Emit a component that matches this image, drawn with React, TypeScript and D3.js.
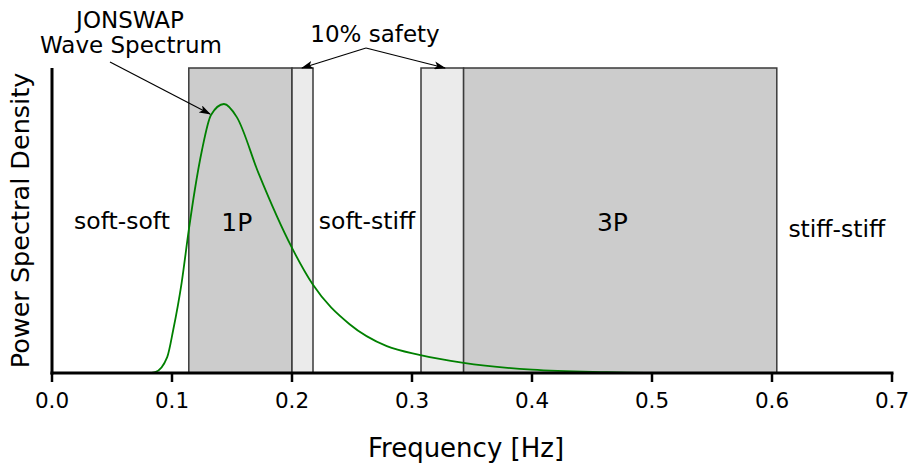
import { useEffect } from 'react'
import * as d3 from 'd3'

// spectrum (frequency in Hz, normalised density)
const FREQ = [0.0, 0.08, 0.086, 0.096, 0.101, 0.108, 0.114, 0.119, 0.125, 0.1325, 0.1433, 0.154, 0.172, 0.2, 0.2175, 0.248, 0.279, 0.307, 0.323, 0.343, 0.4, 0.4625, 0.52, 0.7]
const PSD = [0, 0, 0.003, 0.052, 0.141, 0.295, 0.469, 0.6, 0.731, 0.846, 0.882, 0.839, 0.656, 0.41, 0.289, 0.16, 0.088, 0.059, 0.046, 0.033, 0.011, 0.003, 0, 0]

// excitation bands (Hz)
const BAND_START = [0.114, 0.2, 0.3075, 0.343]
const BAND_END = [0.2, 0.2175, 0.343, 0.604]
const BAND_KIND = ['1P', 'safety', 'safety', '3P']

const REGION_LABELS = ['soft-soft', '1P', 'soft-stiff', '3P', 'stiff-stiff']
const REGION_CENTER = [0.0583, 0.154, 0.2625, 0.467, 0.654]

const X_TICKS = [0, 0.1, 0.2, 0.3, 0.4, 0.5, 0.6, 0.7]

const W = 913
const H = 464
const FONT = '"DejaVu Sans", Verdana, sans-serif'

export default function App() {
  useEffect(() => {
    document.body.style.margin = '0'
  }, [])

  const x = d3.scaleLinear().domain([0, 0.7]).range([52, 892])
  const y = d3.scaleLinear().domain([0, 1]).range([373, 68])

  const line = d3
    .line<number>()
    .x((_, i) => x(FREQ[i]))
    .y((d) => y(d))
    .curve(d3.curveMonotoneX)

  const peakIdx = PSD.indexOf(d3.max(PSD) as number)

  return (
    <svg width={W} height={H} style={{ display: 'block', fontFamily: FONT }}>
      <defs>
        <marker id="arr" viewBox="0 0 12 8" refX="11" refY="4" markerWidth="12" markerHeight="8" markerUnits="userSpaceOnUse" orient="auto">
          <path d="M0,0 L12,4 L0,8 L3,4 z" fill="#000" />
        </marker>
      </defs>

      {/* bands */}
      {BAND_START.map((s, i) => (
        <rect
          key={i}
          x={x(s)}
          y={y(1)}
          width={x(BAND_END[i]) - x(s)}
          height={y(0) - y(1)}
          fill={BAND_KIND[i] === 'safety' ? '#ebebeb' : '#cccccc'}
          stroke="#3a3a3a"
          strokeWidth={1.5}
        />
      ))}

      {/* region labels */}
      {REGION_LABELS.map((t, i) => (
        <text
          key={t}
          x={x(REGION_CENTER[i])}
          y={i === 1 || i === 3 ? 231 : i === 4 ? 237 : 229}
          textAnchor="middle"
          fontSize={i === 1 || i === 3 ? 25 : 23.5}
          fill="#000"
        >
          {t}
        </text>
      ))}

      {/* spectrum */}
      <path d={line(PSD) ?? ''} fill="none" stroke="#008000" strokeWidth={1.8} />

      {/* axes */}
      <line x1={x(0)} x2={x(0)} y1={y(1)} y2={y(0) + 1.5} stroke="#000" strokeWidth={3} />
      <line x1={x(0) - 1.5} x2={x(0.7) + 1.5} y1={y(0)} y2={y(0)} stroke="#000" strokeWidth={3} />
      {X_TICKS.map((t) => (
        <g key={t}>
          <line x1={x(t)} x2={x(t)} y1={y(0)} y2={y(0) + 9} stroke="#000" strokeWidth={2.5} />
          <text x={x(t)} y={408} textAnchor="middle" fontSize={21.5}>
            {d3.format('.1f')(t)}
          </text>
        </g>
      ))}
      <text x={466} y={457} textAnchor="middle" fontSize={26}>
        Frequency [Hz]
      </text>
      <text transform={`translate(29,${(y(0) + y(1)) / 2 + 0}) rotate(-90)`} textAnchor="middle" fontSize={25.5}>
        Power Spectral Density
      </text>

      {/* annotations */}
      <text x={130} y={28} textAnchor="middle" fontSize={23}>JONSWAP</text>
      <text x={131} y={53} textAnchor="middle" fontSize={23}>Wave Spectrum</text>
      <line x1={110} y1={62} x2={x(FREQ[peakIdx - 1]) - 1} y2={y(PSD[peakIdx - 1]) - 1} stroke="#000" strokeWidth={1.2} markerEnd="url(#arr)" />

      <text x={375} y={42} textAnchor="middle" fontSize={23}>10% safety</text>
      <line x1={366} y1={48} x2={x(BAND_END[0]) + 10} y2={y(1)} stroke="#000" strokeWidth={1.2} markerEnd="url(#arr)" />
      <line x1={366} y1={48} x2={x(BAND_START[2]) + 24} y2={y(1)} stroke="#000" strokeWidth={1.2} markerEnd="url(#arr)" />
    </svg>
  )
}
